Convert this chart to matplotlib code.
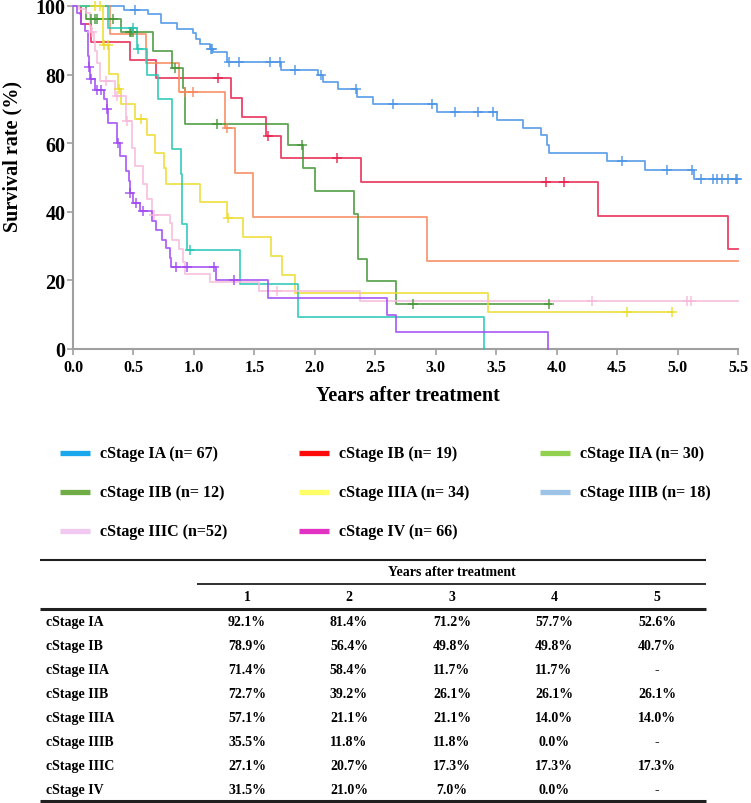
import numpy as np
import matplotlib
matplotlib.use("Agg")
import matplotlib.pyplot as plt
from matplotlib.lines import Line2D

plt.rcParams['font.family'] = ['Liberation Serif', 'DejaVu Serif']
plt.rcParams['font.weight'] = 'bold'

W, H = 751, 804

# ---- survival curves (years, survival %) ----
ia_t = [0, 0.42, 0.62, 0.73, 0.86, 0.99, 1.02, 1.05, 1.13, 1.16, 1.27, 1.72, 2.03, 2.07, 2.19,
        2.35, 2.48, 3.01, 3.51, 3.72, 3.87, 3.92, 3.94, 4.42, 4.73, 5.14]
ia_s = [100, 98.9, 97.6, 95.0, 93.4, 92.1, 90.5, 88.9, 87.4, 86.6, 83.6, 81.4, 79.8, 77.7, 75.7,
        73.6, 71.4, 69.2, 66.8, 64.5, 62.3, 59.6, 57.2, 54.8, 52.3, 49.6]
ia_cens = [0.51, 1.14, 1.15, 1.29, 1.37, 1.63, 1.71, 1.84, 2.05, 2.34, 2.65, 2.97, 3.16, 3.35, 3.47,
           4.54, 4.91, 5.12, 5.19, 5.29, 5.33, 5.37, 5.42, 5.48, 5.49]
ia_end = 5.5

ib_t = [0, 0.07, 0.15, 0.47, 0.69, 1.31, 1.40, 1.60, 1.72, 2.38, 4.34, 5.42]
ib_s = [100, 94.7, 89.5, 84.2, 78.9, 73.3, 67.5, 62.1, 55.7, 48.7, 38.9, 29.2]
ib_cens = [1.20, 1.61, 2.18, 3.91, 4.06]
ib_end = 5.5

iia_t = [0, 0.11, 0.40, 0.66, 0.82, 0.91, 0.93, 1.78, 1.90, 2.00, 2.32, 2.36, 2.43, 2.67]
iia_s = [100, 96.3, 92.3, 86.9, 81.9, 76.2, 65.5, 59.4, 52.7, 46.1, 39.4, 26.3, 19.7, 13.0]
iia_cens = [0.15, 0.18, 0.20, 0.33, 0.47, 0.48, 0.50, 0.84, 1.19, 1.89, 2.81, 3.94]
iia_end = 3.95

iib_t = [0, 0.31, 0.60, 0.88, 1.26, 1.34, 1.49, 2.93]
iib_s = [100, 91.7, 83.3, 75.0, 64.3, 51.4, 38.6, 25.7]
iib_cens = [0.93, 0.99, 1.27]
iib_end = 5.5

iiia_t = [0, 0.25, 0.30, 0.37, 0.40, 0.51, 0.61, 0.68, 0.75, 0.77, 1.05, 1.27, 1.41, 1.64, 1.73, 1.84, 3.43]
iiia_s = [100, 88.6, 80.1, 75.9, 71.3, 67.0, 62.3, 57.2, 52.8, 48.0, 42.8, 38.2, 32.7, 27.2, 21.7, 16.3, 10.7]
iiia_cens = [0.18, 0.22, 0.26, 0.29, 0.38, 0.56, 1.28, 4.58, 4.95]
iiia_end = 4.95

iiib_t = [0, 0.29, 0.53, 0.61, 0.70, 0.82, 0.89, 0.90, 0.94, 1.38, 1.86, 3.40]
iiib_s = [100, 93.7, 87.4, 79.8, 72.8, 58.2, 50.9, 36.3, 28.9, 19.0, 9.4, 0]
iiib_cens = [0.50, 0.54, 0.97]
iiib_end = 3.40

iiic_t = [0, 0.05, 0.11, 0.14, 0.15, 0.17, 0.18, 0.20, 0.22, 0.35, 0.44, 0.49, 0.51, 0.58, 0.61,
          0.65, 0.80, 0.82, 0.88, 0.91, 0.93, 1.13, 1.54, 2.37]
iiic_s = [100, 99.0, 98.1, 94.2, 92.3, 89.9, 87.0, 83.5, 78.2, 73.8, 66.5, 58.7, 53.3, 48.0, 43.6,
          39.2, 36.7, 31.9, 29.1, 25.5, 21.8, 19.4, 17.0, 14.1]
iiic_cens = [0.155, 0.27, 0.36, 0.45, 0.67, 1.69, 4.29, 5.08, 5.11]
iiic_end = 5.5

iv_t = [0, 0.03, 0.06, 0.07, 0.10, 0.12, 0.13, 0.14, 0.18, 0.26, 0.28, 0.29, 0.36, 0.39, 0.44,
        0.46, 0.47, 0.50, 0.55, 0.65, 0.69, 0.74, 0.77, 0.80, 0.81, 1.18, 1.61, 2.60, 2.67, 3.93]
iv_s = [100, 98.0, 97.7, 94.7, 92.8, 85.5, 82.1, 78.7, 75.5, 72.8, 69.9, 66.0, 60.1, 56.2, 51.8,
        48.9, 45.5, 42.6, 40.2, 37.2, 34.8, 31.9, 29.4, 26.5, 23.9, 20.0, 14.8, 9.9, 4.9, 0]
iv_cens = [0.13, 0.145, 0.20, 0.23, 0.28, 0.37, 0.47, 0.52, 0.58, 0.85, 0.94, 1.17, 1.33]
iv_end = 3.93

# ---- legend ----
legend_labels = ['cStage IA (n= 67)', 'cStage IB (n= 19)', 'cStage IIA (n= 30)',
                 'cStage IIB (n= 12)', 'cStage IIIA (n= 34)', 'cStage IIIB (n= 18)',
                 'cStage IIIC (n=52)', 'cStage IV (n= 66)']
legend_colors = ['#1aa7ec', '#ff0a0a', '#92d050', '#70ad47', '#ffff66', '#9dc3e6', '#f0c8f0', '#e232c4']

# ---- table ----
stages = ['cStage IA', 'cStage IB', 'cStage IIA', 'cStage IIB', 'cStage IIIA', 'cStage IIIB',
          'cStage IIIC', 'cStage IV']
years = ['1', '2', '3', '4', '5']
rates = [
    ['92.1%', '81.4%', '71.2%', '57.7%', '52.6%'],
    ['78.9%', '56.4%', '49.8%', '49.8%', '40.7%'],
    ['71.4%', '58.4%', '11.7%', '11.7%', '-'],
    ['72.7%', '39.2%', '26.1%', '26.1%', '26.1%'],
    ['57.1%', '21.1%', '21.1%', '14.0%', '14.0%'],
    ['35.5%', '11.8%', '11.8%', '0.0%', '-'],
    ['27.1%', '20.7%', '17.3%', '17.3%', '17.3%'],
    ['31.5%', '21.0%', '7.0%', '0.0%', '-'],
]

curves = [
    (ia_t, ia_s, ia_end, ia_cens, '#4a94e6'),
    (ib_t, ib_s, ib_end, ib_cens, '#e8204c'),
    (iib_t, iib_s, iib_end, iib_cens, '#f7875a'),
    (iia_t, iia_s, iia_end, iia_cens, '#449636'),
    (iiia_t, iiia_s, iiia_end, iiia_cens, '#ecdc2c'),
    (iiib_t, iiib_s, iiib_end, iiib_cens, '#26c6b4'),
    (iiic_t, iiic_s, iiic_end, iiic_cens, '#f7b9da'),
    (iv_t, iv_s, iv_end, iv_cens, '#a048f2'),
]


def fx(px):
    return px / W


def fy(py):
    return 1 - py / H


def draw_km(ax, t, s, end, cens, color):
    xs = list(t) + [end]
    ys = list(s) + [s[-1]]
    ax.step(xs, ys, where='post', color=color, lw=1.3, alpha=0.85, clip_on=False, zorder=3)
    t_arr = np.array(t)
    cy = [s[np.searchsorted(t_arr, c, side='right') - 1] for c in cens]
    ax.plot(cens, cy, '+', color=color, ms=7, mew=1.1, alpha=0.9, clip_on=False, zorder=4)


fig = plt.figure(figsize=(W / 100, H / 100), dpi=100)
ax = fig.add_axes([fx(73), fy(350), fx(738) - fx(73), fy(7) - fy(350)])

for t, s, end, cens, color in curves:
    draw_km(ax, t, s, end, cens, color)

ax.set_xlim(0, 5.5)
ax.set_ylim(0, 100)
ax.set_xticks(np.arange(0, 5.51, 0.5))
ax.set_xticklabels(['%.1f' % v for v in np.arange(0, 5.51, 0.5)], fontsize=11.5, fontweight='bold')
ax.set_yticks(range(0, 101, 20))
ax.set_yticklabels([str(v) for v in range(0, 101, 20)], fontsize=14.5, fontweight='bold')
for side in ['top', 'right']:
    ax.spines[side].set_visible(False)
for side in ['left', 'bottom']:
    ax.spines[side].set_color('#a0a0a0')
    ax.spines[side].set_linewidth(1.5)
ax.tick_params(axis='both', color='#a0a0a0', length=4, width=1.2)
ax.tick_params(axis='y', pad=1.5)
ax.tick_params(axis='x', pad=3)

fig.text(fx(12), fy(157), 'Survival rate (%)', rotation=90, ha='center', va='center',
         fontsize=14.5, fontweight='bold')
fig.text(fx(408), fy(396), 'Years after treatment', ha='center', va='center',
         fontsize=14.5, fontweight='bold')

# legend drawn by hand in a 3-column grid
col_x = [60, 299, 540]
row_y = [454, 493, 532]
for i, (lab, col) in enumerate(zip(legend_labels, legend_colors)):
    r, c = divmod(i, 3)
    x0 = col_x[c]
    y0 = row_y[r]
    fig.add_artist(Line2D([fx(x0), fx(x0 + 30)], [fy(y0), fy(y0)], color=col, lw=3.8,
                          solid_capstyle='butt'))
    fig.text(fx(x0 + 40), fy(y0), lab, ha='left', va='center', fontsize=11.5, fontweight='bold')

# table
tl, tr = 40, 706
col_cx = [247, 349, 452, 554, 657]


def hline(x1, x2, y, lw):
    fig.add_artist(Line2D([fx(x1), fx(x2)], [fy(y), fy(y)], color='#202020', lw=lw,
                          solid_capstyle='butt'))


hline(tl, tr, 561, 1.5)
hline(197, tr, 585, 1.3)
hline(tl, tr, 610, 2.2)
hline(tl, tr, 802, 2.2)

fig.text(fx(452), fy(573), 'Years after treatment', ha='center', va='center', fontsize=10)
for cx, yr in zip(col_cx, years):
    fig.text(fx(cx), fy(598), yr, ha='center', va='center', fontsize=10)
for i, (st, row) in enumerate(zip(stages, rates)):
    y = 623 + 24 * i
    fig.text(fx(46), fy(y), st, ha='left', va='center', fontsize=10)
    for cx, v in zip(col_cx, row):
        fig.text(fx(cx), fy(y), v, ha='center', va='center', fontsize=10)

fig.savefig('out.png', dpi=100)
